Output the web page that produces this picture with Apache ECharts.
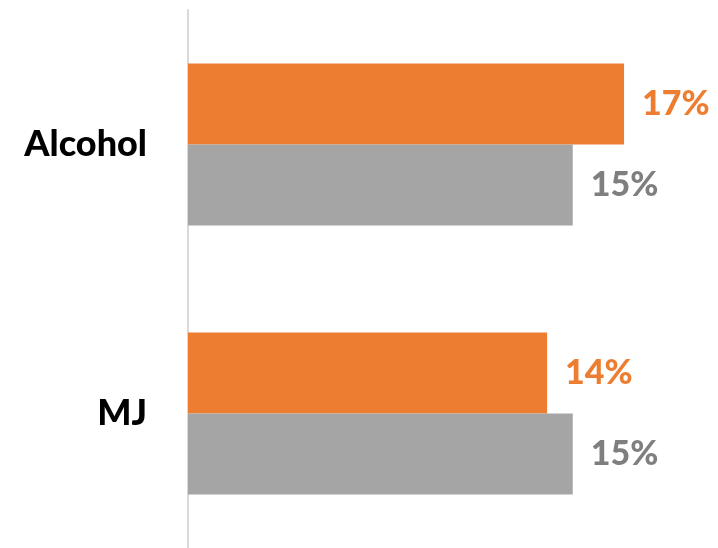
<!DOCTYPE html>
<html><head><meta charset="utf-8">
<script src="https://cdn.jsdelivr.net/npm/echarts@6/dist/echarts.min.js"></script>
<style>html,body{margin:0;padding:0;background:#fff}#c{width:718px;height:548px}</style>
</head><body><div id="c"></div>
<script>
const categories = ['Alcohol', 'MJ'];
const seriesA = [17, 14];
const seriesB = [15, 15];
const FONT = 'Lato';
const chart = echarts.init(document.getElementById('c'));
const lbl = (color) => ({
  show: true, position: 'right', distance: 18,
  formatter: p => p.value + '%',
  color, fontFamily: FONT, fontWeight: 900, fontSize: 34
});
chart.setOption({
  animation: false,
  grid: { left: 188, top: 10, width: 513, height: 543 },
  xAxis: { type: 'value', min: 0, max: 20, show: false },
  yAxis: {
    type: 'category', data: categories, inverse: true,
    axisLine: { show: true, lineStyle: { color: '#d9d9d9', width: 2 } },
    axisTick: { show: false },
    axisLabel: { margin: 41, color: '#000', fontFamily: FONT, fontWeight: 900, fontSize: 36 }
  },
  series: [
    { type: 'bar', data: seriesA, barWidth: 81, barGap: '0%', itemStyle: { color: '#ED7D31' }, label: lbl('#ED7D31') },
    { type: 'bar', data: seriesB, barWidth: 81, barGap: '0%', itemStyle: { color: '#A5A5A5' }, label: lbl('#7F7F7F') }
  ]
});
</script></body></html>
